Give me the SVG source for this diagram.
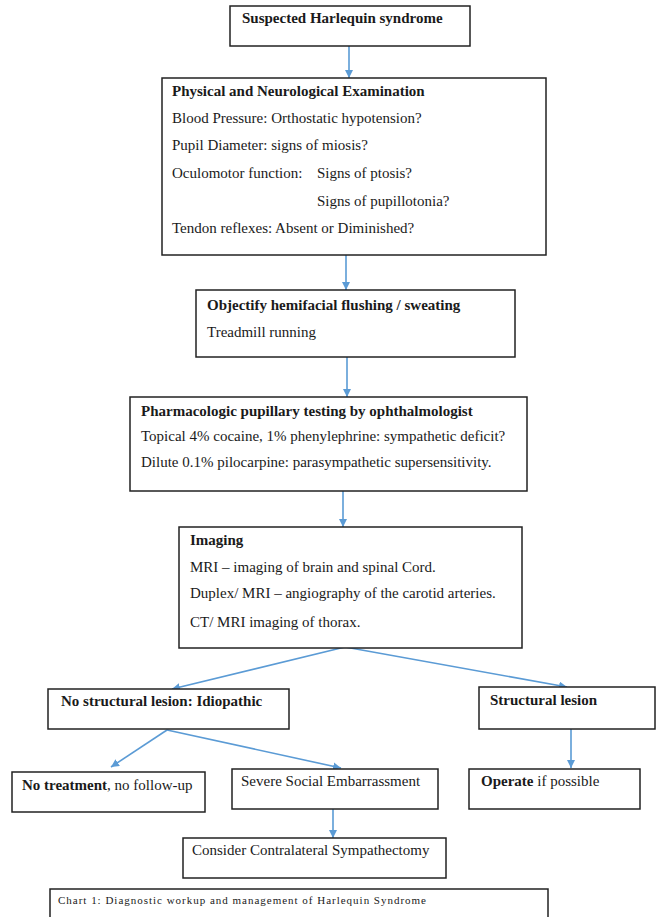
<svg xmlns="http://www.w3.org/2000/svg" width="656" height="917" viewBox="0 0 656 917">
<style>
.box{fill:#fff;stroke:#222;stroke-width:1.5}
.t{font-family:"Liberation Serif","Times New Roman",serif;font-size:15px;fill:#1a1a1a}
.b{font-weight:bold}
.cap{font-family:"Liberation Serif","Times New Roman",serif;font-size:11px;fill:#1a1a1a}
.c{stroke:#5b9bd5;stroke-width:1.6;fill:none;marker-end:url(#ah)}
</style>
<defs>
<marker id="ah" markerWidth="10" markerHeight="10" refX="8" refY="4" orient="auto" markerUnits="userSpaceOnUse">
<path d="M0,0 L8,4 L0,8 z" fill="#5b9bd5"/>
</marker>
</defs>
<rect width="656" height="917" fill="#fff"/>
<g id="connectors">
<line class="c" x1="349" y1="46" x2="349" y2="78"/>
<line class="c" x1="346" y1="255" x2="346" y2="290"/>
<line class="c" x1="347" y1="357" x2="347" y2="397"/>
<line class="c" x1="343" y1="491" x2="343" y2="527"/>
<line class="c" x1="345" y1="647" x2="172" y2="689"/>
<line class="c" x1="345" y1="647" x2="567" y2="687"/>
<line class="c" x1="167" y1="730" x2="111" y2="767"/>
<line class="c" x1="167" y1="730" x2="341" y2="768"/>
<line class="c" x1="571" y1="729" x2="571" y2="768"/>
<line class="c" x1="333" y1="809" x2="333" y2="838"/>
</g>
<g id="n1">
<rect class="box" x="230" y="6" width="240" height="40"/>
<text class="t b" x="242" y="23">Suspected Harlequin syndrome</text>
</g>
<g id="n2">
<rect class="box" x="162" y="78" width="384" height="177"/>
<text class="t b" x="172" y="96">Physical and Neurological Examination</text>
<text class="t" x="172" y="123">Blood Pressure: Orthostatic hypotension?</text>
<text class="t" x="172" y="150">Pupil Diameter: signs of miosis?</text>
<text class="t" x="172" y="178">Oculomotor function:</text>
<text class="t" x="317" y="178">Signs of ptosis?</text>
<text class="t" x="317" y="206">Signs of pupillotonia?</text>
<text class="t" x="172" y="233">Tendon reflexes: Absent or Diminished?</text>
</g>
<g id="n3">
<rect class="box" x="196" y="290" width="319" height="67"/>
<text class="t b" x="207" y="310">Objectify hemifacial flushing / sweating</text>
<text class="t" x="207" y="337">Treadmill running</text>
</g>
<g id="n4">
<rect class="box" x="130" y="397" width="397" height="94"/>
<text class="t b" x="141" y="416">Pharmacologic pupillary testing by ophthalmologist</text>
<text class="t" x="141" y="441">Topical 4% cocaine, 1% phenylephrine: sympathetic deficit?</text>
<text class="t" x="141" y="467">Dilute 0.1% pilocarpine: parasympathetic supersensitivity.</text>
</g>
<g id="n5">
<rect class="box" x="179" y="527" width="343" height="121"/>
<text class="t b" x="190" y="545">Imaging</text>
<text class="t" x="190" y="572">MRI – imaging of brain and spinal Cord.</text>
<text class="t" x="190" y="598">Duplex/ MRI – angiography of the carotid arteries.</text>
<text class="t" x="190" y="627">CT/ MRI imaging of thorax.</text>
</g>
<g id="n6">
<rect class="box" x="48" y="689" width="241" height="40"/>
<text class="t b" x="61" y="706">No structural lesion: Idiopathic</text>
</g>
<g id="n7">
<rect class="box" x="479" y="687" width="176" height="42"/>
<text class="t b" x="490" y="705">Structural lesion</text>
</g>
<g id="n8">
<rect class="box" x="12" y="772" width="193" height="40"/>
<text class="t" x="22" y="790"><tspan class="b">No treatment</tspan>, no follow-up</text>
</g>
<g id="n9">
<rect class="box" x="232" y="769" width="206" height="40"/>
<text class="t" x="241" y="786">Severe Social Embarrassment</text>
</g>
<g id="n10">
<rect class="box" x="469" y="769" width="171" height="40"/>
<text class="t" x="481" y="786"><tspan class="b">Operate</tspan> if possible</text>
</g>
<g id="n11">
<rect class="box" x="183" y="838" width="263" height="40"/>
<text class="t" x="192" y="855">Consider Contralateral Sympathectomy</text>
</g>
<g id="caption">
<rect class="box" x="50" y="889" width="498" height="40"/>
<text class="cap" x="58" y="904" textLength="368" lengthAdjust="spacing">Chart 1: Diagnostic  workup and management of Harlequin Syndrome</text>
</g>
</svg>
